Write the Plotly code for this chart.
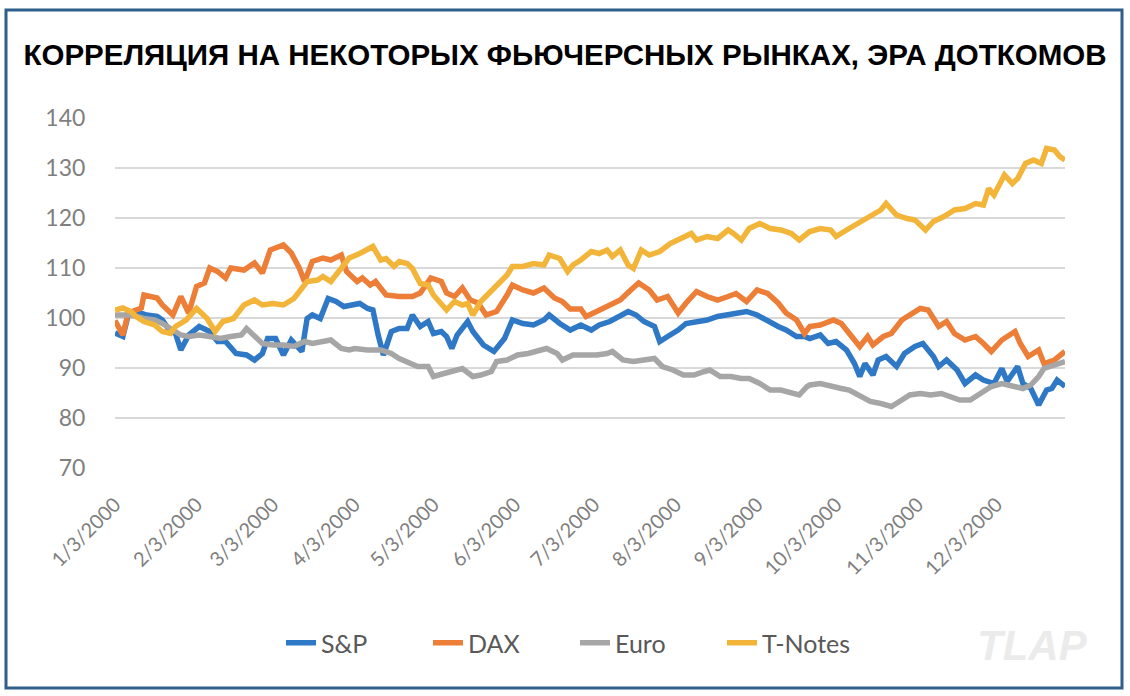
import numpy as np
import pandas as pd
import plotly.graph_objects as go

# ---- data (day of year 2000, index value) ----
sp_day = [3, 6, 8, 11, 15, 19, 21, 24, 26, 28, 31, 35, 39, 42, 45, 49, 53, 56, 59, 61, 64, 67, 70, 72, 74, 76, 78, 81, 84, 87, 90,
          92, 96, 99, 101, 103, 105, 108, 111, 114, 116, 119, 122, 124, 127, 129, 131, 133, 137, 139, 143, 147, 151, 154, 158, 162, 166, 168, 172, 176,
          180, 184, 187, 191, 195, 198, 201, 204, 208, 210, 213, 217, 220, 224, 228, 232, 236, 239, 243, 247, 251, 255, 258, 262, 265,
          267, 271, 274, 277, 281, 284, 286, 288, 291, 293, 296, 300, 303, 307, 310, 314, 316, 319, 323, 326, 330, 333, 337, 340, 342, 346, 348, 351, 354, 357, 359, 361, 364]
sp_val = [97.0, 96.3, 100.6, 101.3, 100.6, 100.3, 99.6, 97.3, 96.9, 93.6, 96.6, 98.3, 97.3, 95.3, 95.3, 92.9, 92.6, 91.6, 92.9, 95.9, 95.9, 92.6, 95.6, 94.6, 93.3, 99.9, 100.6, 99.9, 103.9, 103.3, 102.3,
          102.5, 102.9, 101.9, 101.6, 96.6, 92.6, 97.3, 97.9, 97.9, 100.6, 98.3, 99.3, 96.9, 97.3, 96.3, 93.9, 96.6, 99.3, 97.3, 94.6, 93.3, 95.9, 99.6, 98.9, 98.6, 99.6, 100.6, 98.9, 97.6,
          98.6, 97.6, 98.6, 99.3, 100.3, 101.3, 100.6, 99.3, 98.3, 95.3, 96.3, 97.6, 98.9, 99.3, 99.6, 100.3, 100.6, 100.9, 101.3, 100.6, 99.3, 98.3, 97.6, 96.3, 96.3,
          95.9, 96.6, 94.9, 95.3, 93.6, 90.9, 88.3, 90.9, 88.6, 91.6, 92.3, 90.3, 92.9, 94.3, 94.9, 92.3, 90.3, 91.6, 89.6, 86.9, 88.6, 87.6, 86.9, 89.9, 87.3, 90.3, 86.9, 85.9, 82.6, 85.6, 85.9, 87.6, 86.3]

dax_day = [3, 5, 6, 8, 11, 13, 14, 19, 21, 25, 28, 31, 34, 37, 39, 42, 45, 47, 52, 56, 59, 62, 67, 70, 73, 75, 78, 82, 85, 89, 91,
           95, 97, 100, 102, 106, 111, 116, 119, 123, 127, 129, 132, 135, 138, 141, 144, 148, 152, 154, 158, 162, 166, 170, 173, 176,
           180, 182, 186, 190, 195, 199, 202, 206, 209, 213, 217, 220, 224, 228, 232, 236, 239, 243, 247, 251, 255, 258, 262, 265, 267,
           271, 276, 279, 282, 286, 289, 291, 295, 298, 302, 305, 309, 312, 316, 319, 322, 326, 330, 333, 336, 340, 345, 347, 350, 354, 356, 360, 364]
dax_val = [99.5, 97.5, 96.6, 101.0, 101.5, 102.0, 104.6, 104.0, 102.6, 100.6, 104.3, 101.0, 106.3, 107.0, 110.0, 109.3, 108.0, 110.0, 109.6, 111.0, 109.0, 113.6, 114.6, 113.0, 110.0, 107.3, 111.3, 112.0, 111.6, 112.6, 109.3,
           107.3, 108.0, 106.6, 107.3, 104.6, 104.3, 104.3, 105.0, 108.0, 107.3, 105.0, 104.3, 106.0, 103.6, 103.0, 100.6, 101.3, 104.6, 106.6, 105.6, 105.0, 106.0, 104.0, 103.3, 101.8,
           101.8, 100.3, 101.3, 102.3, 103.6, 105.6, 107.0, 105.6, 103.6, 104.3, 101.0, 103.0, 105.3, 104.3, 103.6, 104.3, 104.9, 103.3, 105.6, 104.9, 103.0, 101.0, 99.6, 96.9, 98.3,
           98.6, 99.6, 98.9, 96.9, 94.3, 96.3, 94.6, 96.3, 96.9, 99.6, 100.6, 101.9, 101.6, 98.3, 99.3, 96.9, 95.6, 96.3, 94.9, 93.3, 95.6, 97.3, 94.9, 92.3, 93.6, 90.9, 91.6, 93.3]

euro_day = [3, 9, 14, 18, 21, 25, 28, 31, 35, 39, 43, 47, 51, 53, 56, 59, 63, 67, 71, 75, 78, 82, 85, 89, 92,
            94, 99, 104, 108, 111, 115, 118, 122, 124, 128, 132, 135, 139, 142, 146, 148, 152, 156, 160, 163, 167, 171, 173, 177,
            181, 186, 190, 192, 196, 200, 204, 208, 211, 215, 219, 223, 227, 229, 233, 237, 241, 244, 248, 252, 256, 260, 263, 266,
            267, 271, 275, 279, 282, 286, 290, 294, 298, 302, 305, 309, 313, 317, 321, 324, 328, 332, 336, 340, 344, 348, 351, 354, 356, 360, 364]
euro_val = [100.6, 100.6, 99.9, 99.6, 98.9, 97.6, 96.6, 96.3, 96.6, 96.3, 95.9, 96.3, 96.6, 97.9, 96.3, 94.9, 94.6, 94.6, 94.3, 95.3, 94.9, 95.3, 95.6, 93.9, 93.6,
            93.9, 93.6, 93.6, 92.9, 91.9, 90.9, 90.3, 90.3, 88.3, 88.9, 89.6, 89.9, 88.3, 88.6, 89.3, 91.3, 91.6, 92.6, 92.9, 93.3, 93.9, 92.9, 91.6, 92.6,
            92.6, 92.6, 92.9, 93.3, 91.6, 91.3, 91.6, 91.9, 90.3, 89.6, 88.6, 88.6, 89.3, 89.6, 88.3, 88.3, 87.9, 87.9, 86.9, 85.6, 85.6, 84.9, 84.6, 86.3,
            86.6, 86.9, 86.3, 85.9, 85.6, 84.3, 83.3, 82.9, 82.3, 83.6, 84.6, 84.9, 84.6, 84.9, 84.3, 83.6, 83.6, 84.9, 86.3, 86.9, 86.3, 85.9, 86.6, 88.3, 89.9, 90.6, 91.3]

tn_day = [3, 6, 9, 11, 14, 18, 21, 24, 26, 30, 34, 38, 41, 44, 48, 52, 56, 59, 63, 67, 71, 73, 76, 80, 82, 85, 89, 92,
          96, 99, 101, 104, 106, 109, 111, 114, 116, 119, 122, 124, 127, 129, 132, 135, 137, 139, 142, 145, 148, 152, 154, 158, 162, 166, 168, 172, 175, 177,
          180, 184, 187, 190, 192, 195, 198, 200, 203, 206, 210, 214, 218, 222, 224, 228, 232, 236, 238, 241, 244, 248, 252, 256, 260, 263,
          267, 271, 275, 277, 281, 285, 288, 291, 294, 296, 300, 304, 307, 311, 314, 318, 322, 326, 330, 333, 335, 337, 341, 344, 346, 349, 352, 355, 357, 360, 362, 364]
tn_val = [101.6, 102.0, 101.3, 100.3, 99.3, 98.6, 97.3, 96.9, 98.3, 99.6, 101.9, 99.9, 97.3, 99.3, 99.9, 102.6, 103.6, 102.6, 102.9, 102.6, 103.9, 105.3, 107.3, 107.6, 108.3, 107.3, 109.9, 112.0,
          112.9, 113.9, 114.3, 111.6, 111.9, 110.3, 111.3, 110.9, 109.9, 106.9, 106.6, 104.6, 102.6, 101.6, 103.3, 102.6, 102.9, 100.6, 103.3, 104.9, 106.6, 108.6, 110.3, 110.3, 110.9, 110.6, 112.6, 111.9, 109.3, 110.6,
          111.6, 113.3, 112.9, 113.6, 112.3, 113.6, 110.6, 109.9, 113.6, 112.6, 113.3, 114.9, 115.9, 116.9, 115.6, 116.3, 115.9, 117.6, 116.9, 115.6, 117.9, 118.9, 117.9, 117.6, 116.9, 115.6,
          117.3, 117.9, 117.6, 116.3, 117.6, 118.9, 119.9, 120.9, 121.6, 122.9, 120.6, 119.9, 119.6, 117.6, 119.3, 120.3, 121.6, 121.9, 122.9, 122.6, 125.9, 124.6, 128.6, 126.9, 127.9, 130.9, 131.6, 130.9, 133.9, 133.6, 132.3, 131.6]

series_names = ["S&P", "DAX", "Euro", "T-Notes"]
series_colors = ["#2E78C6", "#EC7E38", "#A6A6A6", "#F2B53A"]
tick_dates = ["2000-%02d-03" % m for m in range(1, 13)]
tick_labels = ["%d/3/2000" % m for m in range(1, 13)]
y_ticks = [70, 80, 90, 100, 110, 120, 130, 140]

title_text = "КОРРЕЛЯЦИЯ НА НЕКОТОРЫХ ФЬЮЧЕРСНЫХ РЫНКАХ, ЭРА ДОТКОМОВ"


def to_dates(days):
    return pd.Timestamp("2000-01-01") + pd.to_timedelta(np.array(days) - 1, unit="D")


fig = go.Figure()
for name, color, d, v in zip(series_names, series_colors,
                             [sp_day, dax_day, euro_day, tn_day],
                             [sp_val, dax_val, euro_val, tn_val]):
    fig.add_trace(go.Scatter(x=to_dates(d), y=v, mode="lines", name=name,
                             line=dict(color=color, width=5.5, shape="linear")))

W, H = 1130, 696
L, R, T, B = 115, 65, 118, 228
pw, ph = W - L - R, H - T - B


def px_x(x):
    return (x - L) / pw


def px_y(y):
    return (H - B - y) / ph


fig.update_layout(
    width=W, height=H,
    margin=dict(l=L, r=R, t=T, b=B, autoexpand=False),
    paper_bgcolor="white", plot_bgcolor="white",
    title=dict(text="<b>" + title_text + "</b>", x=565 / W, xref="container", xanchor="center",
               y=1 - 55 / H, yref="container", yanchor="middle",
               font=dict(family="Liberation Sans, Arial", size=29.5, color="black")),
    xaxis=dict(type="date", range=["2000-01-03", "2000-12-29"],
               tickmode="array", tickvals=tick_dates, ticktext=tick_labels,
               tickangle=-45, showgrid=False, zeroline=False, showline=False,
               ticks="outside", ticklen=16, tickcolor="rgba(0,0,0,0)",
               tickfont=dict(family="Lato, Carlito, sans-serif", size=20, color="#7F7F7F")),
    yaxis=dict(range=[70, 140], tickmode="array", tickvals=y_ticks,
               showgrid=True, gridcolor="#D9D9D9", gridwidth=2, zeroline=False,
               showline=False, ticks="outside", ticklen=24, tickcolor="rgba(0,0,0,0)",
               tickfont=dict(family="Lato, Carlito, sans-serif", size=23, color="#7F7F7F")),
    showlegend=True,
    legend=dict(orientation="h", x=(575 - L) / pw, xanchor="center", y=px_y(643), yanchor="middle",
                font=dict(family="Lato, Carlito, sans-serif", size=25, color="#595959"),
                entrywidth=102, entrywidthmode="pixels",
                tracegroupgap=0, bgcolor="rgba(0,0,0,0)"),
    annotations=[dict(text="<b><i>TLAP</i></b>", xref="paper", yref="paper",
                      x=px_x(1032), y=px_y(645), xanchor="center", yanchor="middle",
                      showarrow=False,
                      font=dict(family="Liberation Sans, Arial", size=42, color="#EBEBEB"))],
    shapes=[dict(type="rect", xref="paper", yref="paper",
                 x0=px_x(6), x1=px_x(1122), y0=px_y(688), y1=px_y(10),
                 line=dict(color="#2F5F8A", width=3), fillcolor="rgba(0,0,0,0)", layer="above")],
)

fig.write_html("out.html")
